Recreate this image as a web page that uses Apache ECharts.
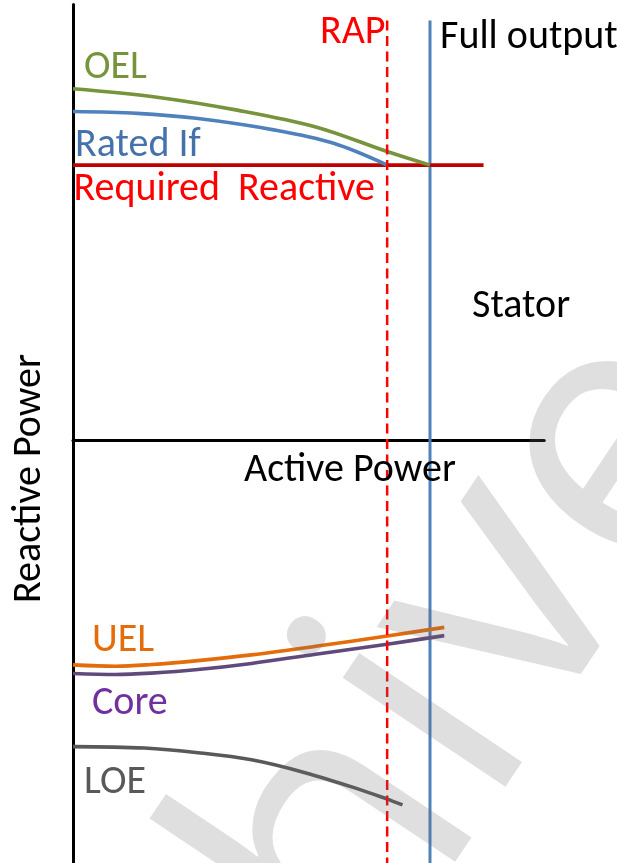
<!DOCTYPE html>
<html><head><meta charset="utf-8">
<script src="https://cdn.jsdelivr.net/npm/echarts@6/dist/echarts.min.js"></script>
<style>html,body{margin:0;padding:0;background:#fff}#chart{width:617px;height:863px}</style>
</head><body><div id="chart"></div>
<script>
// ---- data (Active Power P, Reactive Power Q, same per-unit scale) ----
const requiredReactive = 77;      // Q level of the required reactive line
const requiredReactiveEnd = 115;  // P where that line stops
const rapP = 88;                  // rated active power (dashed)
const fullOutputP = 100;          // full output (solid blue)
const verticalTop = 117.5;        // Q where the verticals start
const oelCurve   = [[0,98.4],[23,96.1],[46,92.4],[68,87.7],[88,80.8],[100,77]];
const ratedIfCurve = [[0,92],[18,91.5],[34.5,90.1],[56.6,86.8],[73,83.1],[88,77]];
const uelCurve   = [[0,-63],[12,-63.4],[22,-62.9],[35,-61.8],[50,-60.2],[68,-57.8],[88,-54.9],[104,-52.5]];
const coreCurve  = [[0,-65.4],[12,-65.7],[22,-65.3],[35,-64.3],[50,-62.6],[68,-60],[88,-57.2],[104,-54.8]];
const loeCurve   = [[0,-85.9],[20,-86.3],[35,-87.6],[50,-89.6],[65,-93.2],[80,-97.8],[88,-100.6],[92.3,-102.2]];
const pRange = [0,132];
const qRange = [-118.5,122];

// ---- layout ----
const W = 617, H = 863, X0 = 73, Y0 = 440, K = 3.57;
const gridLeft = X0, gridRight = W - X0 - (pRange[1]-pRange[0])*K;
const gridTop = Y0 - qRange[1]*K, gridBottom = H - (Y0 - qRange[0]*K);
const FONT = '"Carlito","Liberation Sans Narrow","Lato",sans-serif';
const FS = 40, MID = FS*0.245;

function line(name, data, color, width, extra){
  return Object.assign({type:'line', name, data, showSymbol:false, symbol:'none', silent:true,
    lineStyle:{color, width}, smooth:0.35, z:3, animation:false}, extra||{});
}
const series = [
  line('Required Reactive', [[0,requiredReactive],[requiredReactiveEnd,requiredReactive]], '#C00000', 3.8, {smooth:false, z:4}),
  line('Full output', [[fullOutputP,verticalTop],[fullOutputP,qRange[0]]], '#4F81BD', 3, {smooth:false, z:3}),
  line('RAP', [[rapP,verticalTop],[rapP,qRange[0]]], '#FF0000', 2.5, {smooth:false, z:6, lineStyle:{color:'#FF0000', width:2.5, type:[10,5.5]}}),
  line('OEL', oelCurve, '#77933C', 3.6, {z:5}),
  line('Rated If', ratedIfCurve, '#4F81BD', 3.6, {z:5}),
  line('UEL', uelCurve, '#E46C0A', 3.6, {z:5}),
  line('Core', coreCurve, '#604A7B', 3.6, {z:5}),
  line('LOE', loeCurve, '#595959', 3.6, {z:5}),
];

function label(text, color, x, baseline){
  return {type:'text', x, y: baseline - MID, silent:true, z:50,
    style:{text, fill:color, font: FS+'px '+FONT, textAlign:'left', textVerticalAlign:'middle'}};
}
// watermark pieces (decoration)
const WM_FONT = '366px "Open Sans"', WM_FILL = 'rgba(110,110,110,0.22)', WM_ROT = 0.981;
const dirX = Math.cos(WM_ROT), dirY = -Math.sin(WM_ROT);
const eEnd = [678.5, 367.6];
const eAdv = 205;
const graphics = [
  label('OEL', '#77933C', 84, 78),
  label('Rated If', '#4672AC', 75, 155.5),
  label('Required  Reactive', '#FF0000', 73.5, 199.5),
  label('RAP', '#FF0000', 320, 43),
  label('Full output', '#000000', 440, 48),
  label('Stator', '#000000', 472, 316.5),
  label('Active Power', '#000000', 244, 480.5),
  label('UEL', '#E46C0A', 92, 651),
  label('Core', '#7030A0', 92, 713.5),
  label('LOE', '#595959', 84, 793),
  {type:'text', x: 40 - MID, y: 478.5, rotation: Math.PI/2, silent:true, z:50,
    style:{text:'Reactive Power', fill:'#000', font: FS+'px '+FONT, textAlign:'center', textVerticalAlign:'middle'}},
  {type:'text', x: eEnd[0], y: eEnd[1], rotation: WM_ROT, silent:true, z:100,
    style:{text:'e', fill:WM_FILL, font:WM_FONT, textAlign:'right', textVerticalAlign:'middle'}},
  {type:'text', x: eEnd[0] - eAdv*dirX - 10, y: eEnd[1] - eAdv*dirY - 12, rotation: WM_ROT, silent:true, z:100,
    style:{text:'Archiv', fill:WM_FILL, font:WM_FONT, textAlign:'right', textVerticalAlign:'middle'}}
];

const chart = echarts.init(document.getElementById('chart'), null, {renderer:'canvas'});
chart.setOption({
  animation:false,
  backgroundColor:'#ffffff',
  grid:{left:gridLeft, right:gridRight, top:gridTop, bottom:gridBottom, containLabel:false},
  xAxis:{type:'value', min:pRange[0], max:pRange[1],
    axisLine:{show:true, onZero:true, lineStyle:{color:'#000', width:3}},
    axisTick:{show:false}, axisLabel:{show:false}, splitLine:{show:false}},
  yAxis:{type:'value', min:qRange[0], max:qRange[1],
    axisLine:{show:true, onZero:true, lineStyle:{color:'#000', width:3}},
    axisTick:{show:false}, axisLabel:{show:false}, splitLine:{show:false}},
  series,
  graphic: graphics
});
</script></body></html>
